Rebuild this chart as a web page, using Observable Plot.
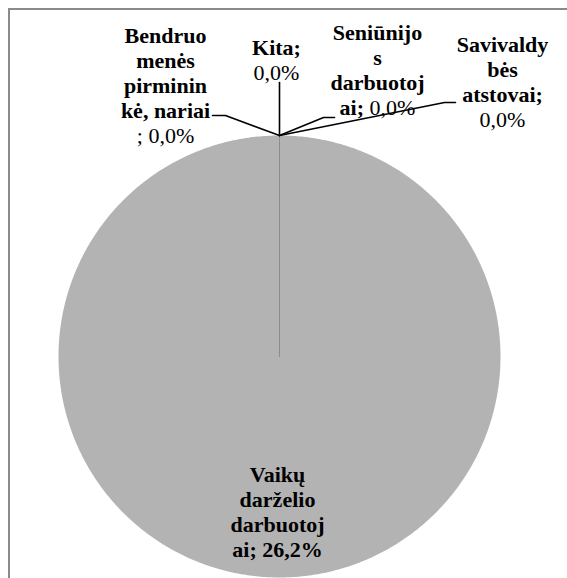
<!DOCTYPE html>
<html><head><meta charset="utf-8">
<script src="https://cdn.jsdelivr.net/npm/d3@7"></script>
<script src="https://cdn.jsdelivr.net/npm/@observablehq/plot@0.6"></script>
<style>
html,body{margin:0;padding:0;background:#fff;}
#wrap{position:relative;width:567px;height:578px;overflow:hidden;background:#fff;}
#chart{position:absolute;left:0;top:0;}
#frame{position:absolute;left:8px;top:8px;width:700px;height:700px;border-left:2px solid #8a8a8a;border-top:2px solid #8a8a8a;box-sizing:border-box;pointer-events:none;}
</style></head><body>
<div id="wrap"><div id="chart"></div><div id="frame"></div></div>
<script>
// ---- data ----
const categories = ["Vaikų darželio darbuotojai", "Bendruomenės pirmininkė, nariai", "Kita", "Seniūnijos darbuotojai", "Savivaldybės atstovai"];
const values = [26.2, 0, 0, 0, 0];
const valueLabels = ["26,2%", "0,0%", "0,0%", "0,0%", "0,0%"];
// label text as wrapped in the original: each line is a list of [text, bold]
const labelLines = [
  [[["Vaikų", 1]], [["darželio", 1]], [["darbuotoj", 1]], [["ai; 26,2%", 1]]],
  [[["Bendruo", 1]], [["menės", 1]], [["pirminin", 1]], [["kė, nariai", 1]], [["; 0,0%", 0]]],
  [[["Kita;", 1]], [["0,0%", 0]]],
  [[["Seniūnijo", 1]], [["s", 1]], [["darbuotoj", 1]], [["ai;", 1], [" 0,0%", 0]]],
  [[["Savivaldy", 1]], [["bės", 1]], [["atstovai;", 1]], [["0,0%", 0]]]
];

// ---- layout (pixels) ----
const W = 567, H = 578;
const cx = 279, cy = 356, R = 221;
const fontFamily = "Liberation Serif";
const fontSize = 22;
const lineGap = 25;
const labelCenterX = [277, 165, 276, 377, 502];
const labelFirstY = [474, 35, 47, 32, 44];
const leaderElbow = [null, [225, 115], [279, 82], [323, 117], [444, 102]];
const leaderEnd   = [null, [212, 115], [279, 82], [334, 117], [455, 102]];

const ux = px => (px - cx) / R;
const uy = py => (cy - py) / R;

// pie geometry in unit-circle coordinates
const arcs = d3.pie().sort(null).startAngle(0).endAngle(2 * Math.PI)(values);
const slicePts = [];
arcs.forEach((a, i) => {
  if (a.value <= 0) return;
  slicePts.push({i, x: 0, y: 0});
  const n = Math.max(2, Math.ceil((a.endAngle - a.startAngle) / 0.01));
  for (let k = 0; k <= n; k++) {
    const t = a.startAngle + (a.endAngle - a.startAngle) * k / n;
    slicePts.push({i, x: Math.sin(t), y: Math.cos(t)});
  }
});
const radials = arcs.map((a, i) => ({i, x1: 0, y1: 0, x2: Math.sin(a.startAngle), y2: Math.cos(a.startAngle)}));

// leader lines (for labels placed outside)
const leaders = [];
arcs.forEach((a, i) => {
  if (!leaderEnd[i]) return;
  const mid = (a.startAngle + a.endAngle) / 2;
  leaders.push({i, x: Math.sin(mid), y: Math.cos(mid)});
  leaders.push({i, x: ux(leaderElbow[i][0]), y: uy(leaderElbow[i][1])});
  leaders.push({i, x: ux(leaderEnd[i][0]), y: uy(leaderEnd[i][1])});
});

// text segments
const ctx = document.createElement("canvas").getContext("2d");
const measure = (t, b) => { ctx.font = `${b ? "bold " : ""}${fontSize}px "${fontFamily}"`; return ctx.measureText(t).width; };
const segs = [];
labelLines.forEach((lines, i) => {
  lines.forEach((line, j) => {
    const total = d3.sum(line, s => measure(s[0], s[1]));
    let x0 = labelCenterX[i] - total / 2;
    const py = labelFirstY[i] + j * lineGap;
    line.forEach(s => {
      segs.push({i, text: s[0], bold: s[1], x: ux(x0), y: uy(py)});
      x0 += measure(s[0], s[1]);
    });
  });
});

const chart = Plot.plot({
  width: W, height: H,
  margin: 0,
  style: {background: "transparent", overflow: "visible"},
  x: {domain: [ux(0), ux(W)], range: [0, W], axis: null},
  y: {domain: [uy(0), uy(H)], range: [0, H], axis: null},
  marks: [
    Plot.line(slicePts, {x: "x", y: "y", z: "i", fill: "#b3b3b3", stroke: "none", curve: "linear"}),
    Plot.link(radials, {x1: "x1", y1: "y1", x2: "x2", y2: "y2", stroke: "#8c8c8c", strokeWidth: 1}),
    Plot.line(leaders, {x: "x", y: "y", z: "i", stroke: "#000", strokeWidth: 1.6, curve: "linear"}),
    Plot.text(segs.filter(d => d.bold), {x: "x", y: "y", text: "text", textAnchor: "start", fontWeight: "bold", fontFamily, fontSize, fill: "#000"}),
    Plot.text(segs.filter(d => !d.bold), {x: "x", y: "y", text: "text", textAnchor: "start", fontFamily, fontSize, fill: "#000"})
  ]
});
document.getElementById("chart").appendChild(chart);
</script>
</body></html>
